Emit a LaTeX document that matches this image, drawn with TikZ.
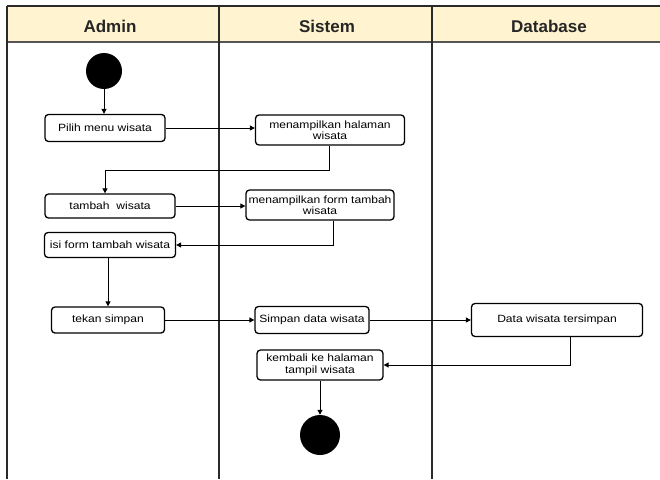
\documentclass[tikz,border=0pt]{standalone}
\usepackage{fontspec}
\setmainfont{Liberation Sans}
\newfontfamily\actfont[FakeStretch=1.15]{Liberation Sans}
\usetikzlibrary{arrows.meta}
\definecolor{headfill}{HTML}{FFF4CF}
\definecolor{frameline}{HTML}{2A2A2A}
\tikzset{
  act/.style={draw=black, line width=1.3pt, rounded corners=3.5pt, fill=white,
    font=\actfont\fontsize{10.5}{11.5}\selectfont, align=center, inner sep=0.5pt},
  flow/.style={draw=black, line width=1pt, -{Triangle[length=5pt,width=5pt]}},
  startnode/.style={circle, fill=black, minimum size=36pt, inner sep=0pt},
  endnode/.style={circle, fill=black, minimum size=40pt, inner sep=0pt},
  lane/.style={draw=frameline, line width=1.8pt},
  lanehead/.style={font=\bfseries\fontsize{17}{19}\selectfont, text=black!85}
}
\begin{document}
\begin{tikzpicture}[x=1pt,y=-1pt]
\useasboundingbox (0,0) rectangle (660,479);
\fill[white] (0,0) rectangle (660,479);

% swimlane header and frame
\fill[headfill] (7,6) rectangle (660,42);
\draw[lane] (7,6) -- (660,6);
\draw[draw=frameline!80, line width=1.6pt] (7,42) -- (660,42);
\draw[lane] (7,6) -- (7,479);
\draw[lane] (219,6) -- (219,479);
\draw[lane] (432,6) -- (432,479);
\node[lanehead] (hadmin) at (110,26) {Admin};
\node[lanehead] (hsistem) at (327,26) {Sistem};
\node[lanehead] (hdb) at (549,26) {Database};

% activities
\node[startnode] (start) at (104,71) {};
\node[act, minimum width=120pt, minimum height=27pt] (pilih) at (105,128) {Pilih menu wisata};
\node[act, minimum width=149pt, minimum height=30pt] (tampilhal) at (330,130) {menampilkan halaman\\wisata};
\node[act, minimum width=130pt, minimum height=24pt] (tambah) at (110,206) {tambah\ \ wisata};
\node[act, minimum width=148pt, minimum height=30pt] (tampilform) at (320,205) {menampilkan form tambah\\wisata};
\node[act, minimum width=131pt, minimum height=25pt] (isi) at (110,245) {isi form tambah wisata};
\node[act, minimum width=113pt, minimum height=26pt] (tekan) at (108,320) {tekan simpan};
\node[act, minimum width=114pt, minimum height=27pt] (simpan) at (312,320) {Simpan data wisata};
\node[act, minimum width=171pt, minimum height=33pt] (tersimpan) at (557,320) {Data wisata tersimpan};
\node[act, minimum width=126pt, minimum height=30pt] (kembali) at (320,365) {kembali ke halaman\\tampil wisata};
\node[endnode] (end) at (320,435) {};

% control flow
\draw[flow] (start) -- (start |- pilih.north);
\draw[flow] (pilih.east) -- (pilih.east -| tampilhal.west);
\draw[flow] ([xshift=-1pt]tampilhal.south) -- ++(0,25) -| ([xshift=-5pt]tambah.north);
\draw[flow] (tambah.east) -- (tambah.east -| tampilform.west);
\draw[flow] ([xshift=13pt]tampilform.south) |- (isi.east);
\draw[flow] ([xshift=-2pt]isi.south) -- ([xshift=-2pt]isi.south |- tekan.north);
\draw[flow] (tekan.east) -- (tekan.east -| simpan.west);
\draw[flow] (simpan.east) -- (simpan.east -| tersimpan.west);
\draw[flow] ([xshift=13pt]tersimpan.south) |- (kembali.east);
\draw[flow] (kembali.south) -- (end.north);
\end{tikzpicture}
\end{document}
